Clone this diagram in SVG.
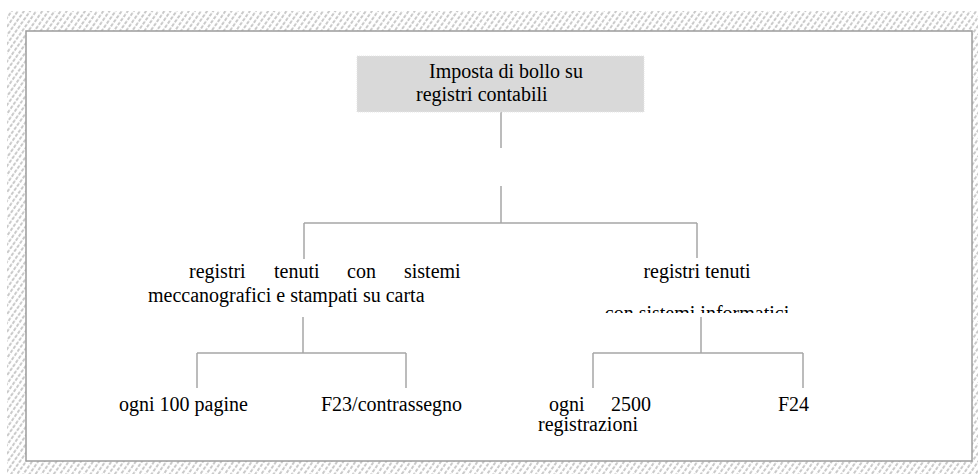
<svg xmlns="http://www.w3.org/2000/svg" width="978" height="474" viewBox="0 0 978 474">
<style>
.t{font-family:"Liberation Serif","Times New Roman",serif;font-size:20px;fill:#000}
.c{stroke:#a6a6a6;stroke-width:1.5;fill:none}
</style>
<defs>
<pattern id="hatch" width="5" height="5" patternUnits="userSpaceOnUse" patternTransform="rotate(35)">
<line x1="1" y1="0" x2="1" y2="5" stroke="#b4b4b4" stroke-width="1.4" stroke-dasharray="3 1.5"/>
</pattern>
<clipPath id="clipR"><rect x="560" y="250" width="300" height="63"/></clipPath>
</defs>
<rect x="7" y="11" width="971" height="463" fill="url(#hatch)"/>
<rect x="26" y="31" width="946" height="430" fill="#ffffff" stroke="#9c9c9c" stroke-width="1.5"/>
<g id="connectors">
<path class="c" d="M501 112V148M501 186V223M304 223H697M304 223V259M697 223V258"/>
<path class="c" d="M303 317V353M197 353H406M197 353V388M406 353V388"/>
<path class="c" d="M701 317V353M593 353H803M593 353V388M803 353V388"/>
</g>
<g id="root">
<rect x="357" y="56" width="287" height="56" fill="#d9d9d9" stroke="#e6e6e6" stroke-width="1" stroke-dasharray="1 1"/>
<text class="t" x="429" y="78">Imposta di bollo su</text>
<text class="t" x="416" y="101">registri contabili</text>
</g>
<g id="node-mecc">
<text class="t" y="278"><tspan x="189">registri</tspan><tspan x="274">tenuti</tspan><tspan x="347">con</tspan><tspan x="404">sistemi</tspan></text>
<text class="t" x="148" y="302">meccanografici e stampati su carta</text>
</g>
<g id="node-info">
<text class="t" x="697" y="278" text-anchor="middle">registri tenuti</text>
<g clip-path="url(#clipR)"><text class="t" x="697" y="320" text-anchor="middle">con sistemi informatici</text></g>
</g>
<g id="leaf-100"><text class="t" x="119" y="411">ogni 100 pagine</text></g>
<g id="leaf-f23"><text class="t" x="321" y="411">F23/contrassegno</text></g>
<g id="leaf-2500">
<text class="t" y="411"><tspan x="549">ogni</tspan><tspan x="611">2500</tspan></text>
<text class="t" x="538" y="431">registrazioni</text>
</g>
<g id="leaf-f24"><text class="t" x="778" y="411">F24</text></g>
</svg>
